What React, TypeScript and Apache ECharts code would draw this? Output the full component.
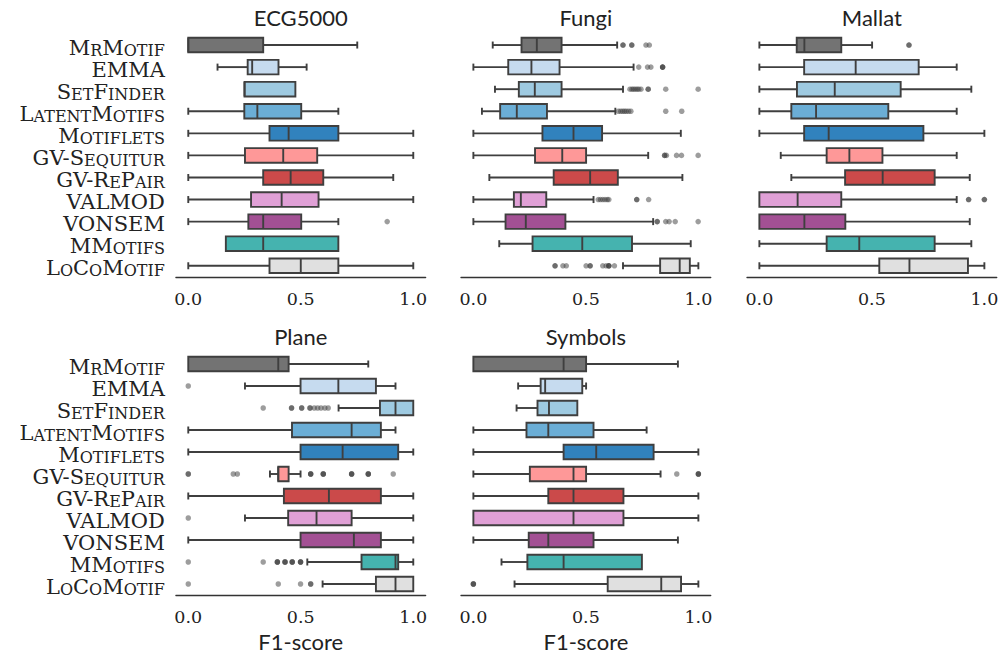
import React, { useEffect, useRef } from "react";
import * as echarts from "echarts";

const categories = [
  "MrMotif", "EMMA", "SetFinder", "LatentMotifs", "Motiflets", "GV-Sequitur",
  "GV-RePair", "VALMOD", "VONSEM", "MMotifs", "LoCoMotif",
];

const tickValues = [0, 0.5, 1.0];

// [min, q1, median, q3, max]
const ecgBoxes = [
  [0, 0, 0, 0.333, 0.751],
  [0.13, 0.264, 0.284, 0.401, 0.526],
  [0.25, 0.25, 0.25, 0.476, 0.476],
  [0, 0.249, 0.307, 0.502, 0.667],
  [0, 0.361, 0.446, 0.667, 1.0],
  [0, 0.252, 0.422, 0.573, 1.0],
  [0, 0.333, 0.455, 0.6, 0.911],
  [0, 0.279, 0.415, 0.579, 1.0],
  [0, 0.267, 0.333, 0.502, 0.667],
  [0.167, 0.167, 0.333, 0.667, 0.667],
  [0, 0.361, 0.5, 0.667, 1.0],
];
const ecgOutliers = [[], [], [], [], [], [], [], [], [0.884], [], []];

const fungiBoxes = [
  [0.086, 0.214, 0.282, 0.392, 0.639],
  [0, 0.155, 0.258, 0.383, 0.712],
  [0.096, 0.202, 0.273, 0.392, 0.665],
  [0.038, 0.119, 0.193, 0.327, 0.631],
  [0, 0.307, 0.445, 0.572, 0.922],
  [0, 0.274, 0.395, 0.501, 0.777],
  [0.071, 0.357, 0.519, 0.642, 0.929],
  [0, 0.18, 0.211, 0.324, 0.534],
  [0, 0.143, 0.233, 0.409, 0.799],
  [0.115, 0.263, 0.484, 0.705, 0.966],
  [0.665, 0.83, 0.917, 0.962, 1.0],
];
const fungiOutliers = [
  [0.665, 0.665, 0.704, 0.704, 0.767, 0.782],
  [0.735, 0.774, 0.789, 0.841, 0.841, 0.841],
  [0.696, 0.705, 0.712, 0.72, 0.728, 0.735, 0.745, 0.777, 0.777, 0.855, 0.999],
  [0.645, 0.655, 0.664, 0.672, 0.68, 0.69, 0.7, 0.855, 0.926],
  [],
  [0.85, 0.85, 0.858, 0.903, 0.925, 0.999],
  [],
  [0.555, 0.565, 0.575, 0.585, 0.595, 0.602, 0.726, 0.726, 0.779],
  [0.817, 0.817, 0.855, 0.87, 0.897, 0.999],
  [],
  [0.363, 0.363, 0.398, 0.413, 0.501, 0.519, 0.519, 0.575, 0.59, 0.602, 0.602, 0.602, 0.627],
];

const mallatBoxes = [
  [0, 0.166, 0.2, 0.364, 0.501],
  [0, 0.199, 0.428, 0.708, 0.877],
  [0, 0.167, 0.335, 0.628, 0.942],
  [0, 0.142, 0.252, 0.573, 0.877],
  [0, 0.199, 0.308, 0.729, 1.0],
  [0.095, 0.299, 0.4, 0.547, 0.877],
  [0.142, 0.381, 0.548, 0.779, 0.935],
  [0, 0, 0.17, 0.364, 0.877],
  [0, 0, 0.2, 0.382, 0.935],
  [0, 0.299, 0.444, 0.779, 0.942],
  [0, 0.533, 0.667, 0.927, 1.0],
];
const mallatOutliers = [[0.665, 0.665], [], [], [], [], [], [], [0.93, 0.93, 1.0, 1.0], [], [], []];

const planeBoxes = [
  [0, 0, 0.4, 0.446, 0.8],
  [0.252, 0.499, 0.667, 0.834, 0.921],
  [0.668, 0.852, 0.921, 1.0, 1.0],
  [0, 0.461, 0.726, 0.856, 0.921],
  [0, 0.499, 0.686, 0.933, 1.0],
  [0.363, 0.4, 0.4, 0.446, 0.499],
  [0, 0.425, 0.625, 0.856, 1.0],
  [0.252, 0.444, 0.57, 0.726, 1.0],
  [0, 0.499, 0.736, 0.856, 1.0],
  [0.529, 0.77, 0.921, 0.933, 1.0],
  [0.597, 0.834, 0.921, 1.0, 1.0],
];
const planeOutliers = [
  [],
  [0],
  [0.333, 0.459, 0.459, 0.504, 0.504, 0.541, 0.541, 0.56, 0.575, 0.59, 0.607, 0.622],
  [],
  [],
  [0, 0, 0.2, 0.218, 0.544, 0.544, 0.544, 0.6, 0.6, 0.6, 0.726, 0.726, 0.726, 0.8, 0.8, 0.8, 0.911],
  [],
  [0],
  [],
  [0, 0.333, 0.396, 0.396, 0.396, 0.43, 0.43, 0.43, 0.462, 0.462, 0.462, 0.499, 0.499, 0.499],
  [0, 0.4, 0.499, 0.544, 0.544],
];

const symbolsBoxes = [
  [0, 0, 0.401, 0.501, 0.909],
  [0.199, 0.299, 0.319, 0.484, 0.501],
  [0.192, 0.285, 0.336, 0.462, 0.462],
  [0, 0.236, 0.333, 0.534, 0.77],
  [0, 0.401, 0.546, 0.801, 1.0],
  [0, 0.251, 0.445, 0.501, 0.832],
  [0, 0.333, 0.445, 0.667, 1.0],
  [0, 0, 0.445, 0.667, 1.0],
  [0, 0.246, 0.333, 0.534, 0.909],
  [0.125, 0.24, 0.401, 0.749, 0.749],
  [0.183, 0.597, 0.835, 0.923, 1.0],
];
const symbolsOutliers = [[], [], [], [], [], [0.904, 1.0, 1.0, 1.0], [], [], [], [], [0, 0, 0]];

const panelNames = ["ECG5000", "Fungi", "Mallat", "Plane", "Symbols"];
const panelBoxes = [ecgBoxes, fungiBoxes, mallatBoxes, planeBoxes, symbolsBoxes];
const panelOutliers = [ecgOutliers, fungiOutliers, mallatOutliers, planeOutliers, symbolsOutliers];

const colors = [
  "#737373", "#c6dbef", "#9ecae1", "#6baed6", "#3182bd", "#fe9898",
  "#cb4a4a", "#e0a0d6", "#a35094", "#45b3af", "#e0e0e0",
];
const EDGE = "#3f3f3f";

const layout = [
  { left: 175.9, top: 34, height: 242.8, showY: true, xLabel: false },
  { left: 461.0, top: 34, height: 242.8, showY: false, xLabel: false },
  { left: 747.0, top: 34, height: 242.8, showY: false, xLabel: false },
  { left: 175.9, top: 353, height: 242, showY: true, xLabel: true },
  { left: 461.0, top: 353, height: 242, showY: false, xLabel: true },
];
const GRID_W = 249.75;
const X_MIN = -0.055;
const X_MAX = 1.055;

function smallCaps(s: string): string {
  let out = "";
  let buf = "";
  let mode = "";
  for (const ch of s) {
    const m = ch >= "a" && ch <= "z" ? "s" : "c";
    if (m !== mode && buf) {
      out += `{${mode}|${buf}}`;
      buf = "";
    }
    mode = m;
    buf += m === "s" ? ch.toUpperCase() : ch;
  }
  if (buf) out += `{${mode}|${buf}}`;
  return out;
}

function renderBox(params: any, api: any) {
  const row = api.value(0);
  const vmin = api.value(1), q1 = api.value(2), med = api.value(3), q3 = api.value(4), vmax = api.value(5);
  const pMin = api.coord([vmin, row]);
  const pQ1 = api.coord([q1, row]);
  const pMed = api.coord([med, row]);
  const pQ3 = api.coord([q3, row]);
  const pMax = api.coord([vmax, row]);
  const band = api.size([0, 1])[1];
  const bh = band * 0.66;
  const cap = 3.5;
  const y = pQ1[1];
  const lineStyle = { stroke: EDGE, lineWidth: 1.9 };
  const children: any[] = [];
  if (vmin < q1) {
    children.push({ type: "line", shape: { x1: pMin[0], y1: y, x2: pQ1[0], y2: y }, style: lineStyle });
    children.push({ type: "line", shape: { x1: pMin[0], y1: y - cap, x2: pMin[0], y2: y + cap }, style: lineStyle });
  }
  if (vmax > q3) {
    children.push({ type: "line", shape: { x1: pQ3[0], y1: y, x2: pMax[0], y2: y }, style: lineStyle });
    children.push({ type: "line", shape: { x1: pMax[0], y1: y - cap, x2: pMax[0], y2: y + cap }, style: lineStyle });
  }
  children.push({
    type: "rect",
    shape: { x: pQ1[0], y: y - bh / 2, width: pQ3[0] - pQ1[0], height: bh },
    style: { fill: colors[row], stroke: EDGE, lineWidth: 1.9 },
  });
  children.push({
    type: "line",
    shape: { x1: pMed[0], y1: y - bh / 2, x2: pMed[0], y2: y + bh / 2 },
    style: { stroke: EDGE, lineWidth: 1.9 },
  });
  return { type: "group", children };
}

export default function App() {
  const ref = useRef<HTMLDivElement>(null);
  useEffect(() => {
    if (!ref.current) return;
    const chart = echarts.init(ref.current, undefined, { renderer: "svg" });
    const grids: any[] = [];
    const xAxes: any[] = [];
    const yAxes: any[] = [];
    const series: any[] = [];
    const graphics: any[] = [];
    layout.forEach((L, i) => {
      grids.push({ left: L.left, top: L.top, width: GRID_W, height: L.height, containLabel: false });
      xAxes.push({
        type: "value",
        gridIndex: i,
        min: X_MIN,
        max: X_MAX,
        axisLine: { show: true, lineStyle: { color: "#333", width: 1.3 } },
        axisTick: { show: false },
        splitLine: { show: false },
        axisLabel: {
          customValues: tickValues,
          formatter: (v: number) => v.toFixed(1),
          fontFamily: "DejaVu Serif",
          fontSize: 17.5,
          color: "#222",
          margin: 13,
        },
      });
      yAxes.push({
        type: "category",
        gridIndex: i,
        data: categories,
        inverse: true,
        axisLine: { show: false },
        axisTick: { show: false },
        splitLine: { show: false },
        axisLabel: {
          show: L.showY,
          margin: 11,
          padding: [5, 0, 0, 0],
          formatter: (v: string) => smallCaps(v),
          rich: {
            c: { fontFamily: "DejaVu Serif", fontSize: 21, color: "#222", verticalAlign: "bottom" },
            s: { fontFamily: "DejaVu Serif", fontSize: 16, color: "#222", verticalAlign: "bottom" },
          },
        },
      });
      const boxes = panelBoxes[i];
      series.push({
        type: "custom",
        xAxisIndex: i,
        yAxisIndex: i,
        renderItem: renderBox,
        encode: { x: [1, 2, 3, 4, 5], y: 0 },
        data: boxes.map((b, r) => [r, ...b]),
        z: 2,
      });
      const outs: any[] = [];
      panelOutliers[i].forEach((arr, r) => arr.forEach((v) => outs.push([v, r])));
      series.push({
        type: "scatter",
        xAxisIndex: i,
        yAxisIndex: i,
        data: outs,
        symbol: "circle",
        symbolSize: 5.5,
        itemStyle: { color: "#3c3c3c", opacity: 0.5 },
        z: 3,
      });
      const cx = L.left + GRID_W / 2;
      graphics.push({
        type: "text",
        x: cx,
        y: L.top - 17,
        style: {
          text: panelNames[i],
          fontFamily: "Lato",
          fontSize: 22,
          fill: "#222",
          textAlign: "center",
          textVerticalAlign: "middle",
        },
      });
      if (L.xLabel) {
        graphics.push({
          type: "text",
          x: cx,
          y: L.top + L.height + 46,
          style: {
            text: "F1-score",
            fontFamily: "Lato",
            fontSize: 22,
            fill: "#222",
            textAlign: "center",
            textVerticalAlign: "middle",
          },
        });
      }
    });
    chart.setOption({
      animation: false,
      backgroundColor: "#ffffff",
      grid: grids,
      xAxis: xAxes,
      yAxis: yAxes,
      series,
      graphic: graphics,
    });
    return () => chart.dispose();
  }, []);
  return (
    <div
      ref={ref}
      style={{ position: "fixed", left: 0, top: 0, width: 1003, height: 659 }}
    />
  );
}
